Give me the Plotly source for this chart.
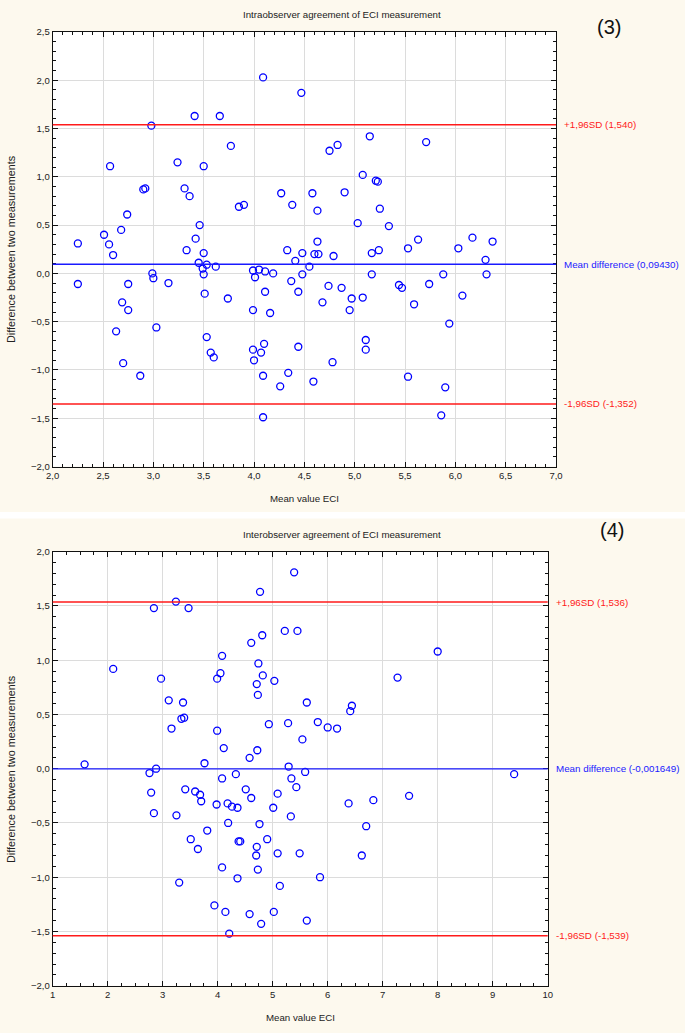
import plotly.graph_objects as go

# ---------------- Data: panel (3) intraobserver ----------------
intra_mean = [2.25, 2.51, 2.56, 2.60, 2.68, 2.74, 2.57, 2.90, 2.92, 2.98, 3.24, 3.41, 3.66, 3.50, 3.77,
              3.31, 3.36, 3.85, 3.90, 3.46, 3.42, 3.33, 3.50, 3.45, 3.53, 3.62, 3.49, 3.50, 3.51, 3.74,
              3.53, 3.57, 3.60, 2.25, 2.75, 2.69, 2.75, 2.63, 2.70, 2.87, 2.99, 3.00, 3.15, 3.03,
              4.09, 4.47, 5.15, 4.75, 4.83, 5.71, 5.08, 5.21, 5.23, 4.27, 4.58, 4.90, 4.38, 4.63,
              5.25, 5.03, 5.34, 4.63, 5.63, 5.53, 4.33, 4.48, 4.60, 4.64, 4.79, 5.17, 5.24, 4.41,
              4.55, 3.99, 4.05, 4.11, 4.19, 4.01, 4.48, 5.17, 4.37, 4.11, 4.44, 4.74, 4.87, 5.44,
              5.47, 5.74, 4.97, 5.08, 4.68, 4.95, 5.59, 3.99, 4.16, 4.10, 5.11, 3.99, 5.11, 4.07,
              4.44, 4.00, 4.78, 4.09, 4.34, 4.26, 4.59, 5.53, 4.09, 6.03, 6.17, 6.37, 6.30, 5.88,
              6.31, 6.07, 5.94, 5.90, 5.86]
intra_diff = [0.31, 0.40, 0.30, 0.19, 0.45, 0.61, 1.11, 0.87, 0.88, 1.53, 1.15, 1.63, 1.63, 1.11, 1.32,
              0.88, 0.80, 0.69, 0.71, 0.50, 0.36, 0.24, 0.21, 0.11, 0.09, 0.07, 0.05, -0.01, -0.21, -0.26,
              -0.66, -0.82, -0.87, -0.11, -0.11, -0.30, -0.38, -0.60, -0.93, -1.06, 0.00, -0.05, -0.10, -0.56,
              2.03, 1.87, 1.42, 1.27, 1.33, 1.36, 1.02, 0.96, 0.95, 0.83, 0.83, 0.84, 0.71, 0.65,
              0.67, 0.52, 0.49, 0.33, 0.35, 0.26, 0.24, 0.21, 0.20, 0.20, 0.18, 0.21, 0.24, 0.13,
              0.07, 0.03, 0.04, 0.02, 0.00, -0.04, -0.01, -0.01, -0.08, -0.19, -0.19, -0.13, -0.15, -0.12,
              -0.15, -0.11, -0.26, -0.25, -0.30, -0.38, -0.32, -0.38, -0.41, -0.73, -0.69, -0.79, -0.79, -0.82,
              -0.76, -0.90, -0.92, -1.06, -1.03, -1.17, -1.12, -1.07, -1.49, 0.26, 0.37, 0.33, 0.14, -0.01,
              -0.01, -0.23, -0.52, -1.18, -1.47]
intra_lines = [1.540, 0.09430, -1.352]
intra_labels = ["+1,96SD (1,540)", "Mean difference (0,09430)", "-1,96SD (-1,352)"]

# ---------------- Data: panel (4) interobserver ----------------
inter_mean = [5.39, 4.77, 2.84, 3.24, 3.47, 5.22, 5.45, 4.81, 4.61, 4.08, 2.10, 4.74, 4.05, 3.99, 4.82,
              5.03, 2.97, 4.71, 4.73, 3.11, 3.37, 5.62, 3.34, 3.39, 3.16, 4.93, 5.28, 3.99, 5.54, 4.11,
              4.72, 4.58, 1.58, 3.76, 5.29, 2.88, 2.76, 4.33, 5.59, 8.00, 7.27, 6.44, 6.41, 5.82,
              6.00, 6.17, 9.39, 2.79, 2.84, 3.41, 3.59, 3.68, 3.70, 4.08, 3.25, 3.98, 4.18, 4.26,
              4.36, 4.51, 4.61, 5.09, 5.01, 5.34, 5.43, 5.33, 4.19, 4.76, 3.81, 3.51, 3.64, 4.38,
              4.41, 4.90, 4.71, 4.70, 5.09, 5.49, 4.73, 4.08, 4.36, 3.30, 5.13, 3.94, 4.14, 4.58,
              5.02, 4.79, 5.62, 4.21, 7.48, 6.83, 6.38, 6.70, 6.62, 5.86]
inter_diff = [1.81, 1.63, 1.48, 1.54, 1.48, 1.27, 1.27, 1.23, 1.16, 1.04, 0.92, 0.97, 0.88, 0.83, 0.86,
              0.81, 0.83, 0.78, 0.68, 0.63, 0.61, 0.61, 0.46, 0.47, 0.37, 0.41, 0.42, 0.35, 0.27, 0.19,
              0.17, 0.10, 0.04, 0.05, 0.02, 0.00, -0.04, -0.05, -0.03, 1.08, 0.84, 0.58, 0.53, 0.43,
              0.38, 0.37, -0.05, -0.22, -0.41, -0.19, -0.21, -0.24, -0.30, -0.09, -0.43, -0.33, -0.32, -0.35,
              -0.36, -0.19, -0.27, -0.23, -0.36, -0.09, -0.17, -0.44, -0.50, -0.51, -0.57, -0.65, -0.74, -0.67,
              -0.67, -0.65, -0.72, -0.80, -0.78, -0.78, -0.93, -0.91, -1.01, -1.05, -1.08, -1.26, -1.32, -1.34,
              -1.32, -1.43, -1.40, -1.52, -0.25, -0.29, -0.32, -0.53, -0.80, -1.00]
inter_lines = [1.536, -0.001649, -1.539]
inter_labels = ["+1,96SD (1,536)", "Mean difference (-0,001649)", "-1,96SD (-1,539)"]

line_colors = ["#ff1a1a", "#1a1aff", "#ff1a1a"]

W, H = 685, 1033
FONT = "Liberation Sans, Arial, sans-serif"
TXT = "#222222"

def px_x(p):
    return p / W

def px_y(p):
    return 1 - p / H

fig = go.Figure()

marker = dict(symbol="circle-open", size=7, color="#0000ff", line=dict(width=1.3, color="#0000ff"))
fig.add_trace(go.Scatter(x=intra_mean, y=intra_diff, mode="markers", marker=marker,
                         xaxis="x", yaxis="y", showlegend=False))
fig.add_trace(go.Scatter(x=inter_mean, y=inter_diff, mode="markers", marker=marker,
                         xaxis="x2", yaxis="y2", showlegend=False))

axis_common = dict(showline=True, linecolor="#111111", linewidth=1, mirror="ticks",
                   ticks="inside", ticklen=5, tickcolor="#111111", showgrid=True,
                   gridcolor="#dcdcdc", gridwidth=1.3, zeroline=False, automargin=False,
                   tickfont=dict(family=FONT, size=9.5, color=TXT))

top_dom_x = [px_x(52.7), px_x(556)]
top_dom_y = [px_y(466.5), px_y(32)]
bot_dom_x = [px_x(52.7), px_x(547.7)]
bot_dom_y = [px_y(985.7), px_y(551.7)]

minor_common = dict(ticks="inside", ticklen=3, tickcolor="#111111", showgrid=False)

fig.update_layout(
    template="none",
    width=W, height=H, autosize=False,
    margin=dict(l=0, r=0, t=0, b=0, pad=0, autoexpand=False),
    paper_bgcolor="#fdf9ee", plot_bgcolor="#ffffff",
    separators=", ",
    font=dict(family=FONT, size=10, color=TXT),
    xaxis=dict(axis_common, domain=top_dom_x, range=[2, 7], dtick=0.5, tick0=2, tickformat=".1f",
               anchor="y", minor=dict(minor_common, dtick=0.1)),
    yaxis=dict(axis_common, domain=top_dom_y, range=[-2, 2.5], dtick=0.5, tick0=0, tickformat=".1f",
               anchor="x", minor=dict(minor_common, dtick=0.1)),
    xaxis2=dict(axis_common, domain=bot_dom_x, range=[1, 10], dtick=1, tick0=1,
                anchor="y2", minor=dict(minor_common, dtick=0.25)),
    yaxis2=dict(axis_common, domain=bot_dom_y, range=[-2, 2], dtick=0.5, tick0=0, tickformat=".1f",
                anchor="x2", minor=dict(minor_common, dtick=0.1)),
)

shapes = []
# white separator band between the two panels
shapes.append(dict(type="rect", xref="paper", yref="paper", x0=0, x1=1,
                   y0=px_y(518.5), y1=px_y(512), fillcolor="#ffffff", line=dict(width=0), layer="below"))
for val, col in zip(intra_lines, line_colors):
    shapes.append(dict(type="line", xref="x domain", yref="y", x0=0, x1=1, y0=val, y1=val,
                       line=dict(color=col, width=1.4), layer="above"))
for val, col in zip(inter_lines, line_colors):
    shapes.append(dict(type="line", xref="x2 domain", yref="y2", x0=0, x1=1, y0=val, y1=val,
                       line=dict(color=col, width=1.4), layer="above"))
fig.update_layout(shapes=shapes)

ann = []
for val, lab, col in zip(intra_lines, intra_labels, line_colors):
    ann.append(dict(x=px_x(562), xref="paper", y=val, yref="y", text=lab, showarrow=False,
                    xanchor="left", yanchor="middle", font=dict(family=FONT, size=9.8, color=col)))
for val, lab, col in zip(inter_lines, inter_labels, line_colors):
    ann.append(dict(x=px_x(554), xref="paper", y=val, yref="y2", text=lab, showarrow=False,
                    xanchor="left", yanchor="middle", font=dict(family=FONT, size=9.8, color=col)))

# titles
ann.append(dict(x=px_x(342), y=px_y(14), xref="paper", yref="paper", text="Intraobserver agreement of ECI measurement",
                showarrow=False, xanchor="center", yanchor="middle", font=dict(family=FONT, size=9.7, color=TXT)))
ann.append(dict(x=px_x(342), y=px_y(534), xref="paper", yref="paper", text="Interobserver agreement of ECI measurement",
                showarrow=False, xanchor="center", yanchor="middle", font=dict(family=FONT, size=9.7, color=TXT)))
# panel numbers
ann.append(dict(x=px_x(609), y=px_y(27), xref="paper", yref="paper", text="(3)", showarrow=False,
                xanchor="center", yanchor="middle", font=dict(family=FONT, size=20, color="#111111")))
ann.append(dict(x=px_x(612), y=px_y(530), xref="paper", yref="paper", text="(4)", showarrow=False,
                xanchor="center", yanchor="middle", font=dict(family=FONT, size=20, color="#111111")))
# axis titles
ann.append(dict(x=px_x(304), y=px_y(498), xref="paper", yref="paper", text="Mean value ECI", showarrow=False,
                xanchor="center", yanchor="middle", font=dict(family=FONT, size=9.7, color=TXT)))
ann.append(dict(x=px_x(300), y=px_y(1017), xref="paper", yref="paper", text="Mean value ECI", showarrow=False,
                xanchor="center", yanchor="middle", font=dict(family=FONT, size=9.7, color=TXT)))
ann.append(dict(x=px_x(11), y=px_y(249), xref="paper", yref="paper", text="Difference between two measurements",
                showarrow=False, textangle=-90, xanchor="center", yanchor="middle",
                font=dict(family=FONT, size=10.8, color=TXT)))
ann.append(dict(x=px_x(11), y=px_y(769), xref="paper", yref="paper", text="Difference between two measurements",
                showarrow=False, textangle=-90, xanchor="center", yanchor="middle",
                font=dict(family=FONT, size=10.8, color=TXT)))
fig.update_layout(annotations=ann)

fig.write_html("out.html", config={"displayModeBar": False},
               post_script="document.body.style.margin='0';document.documentElement.style.overflow='hidden';")
